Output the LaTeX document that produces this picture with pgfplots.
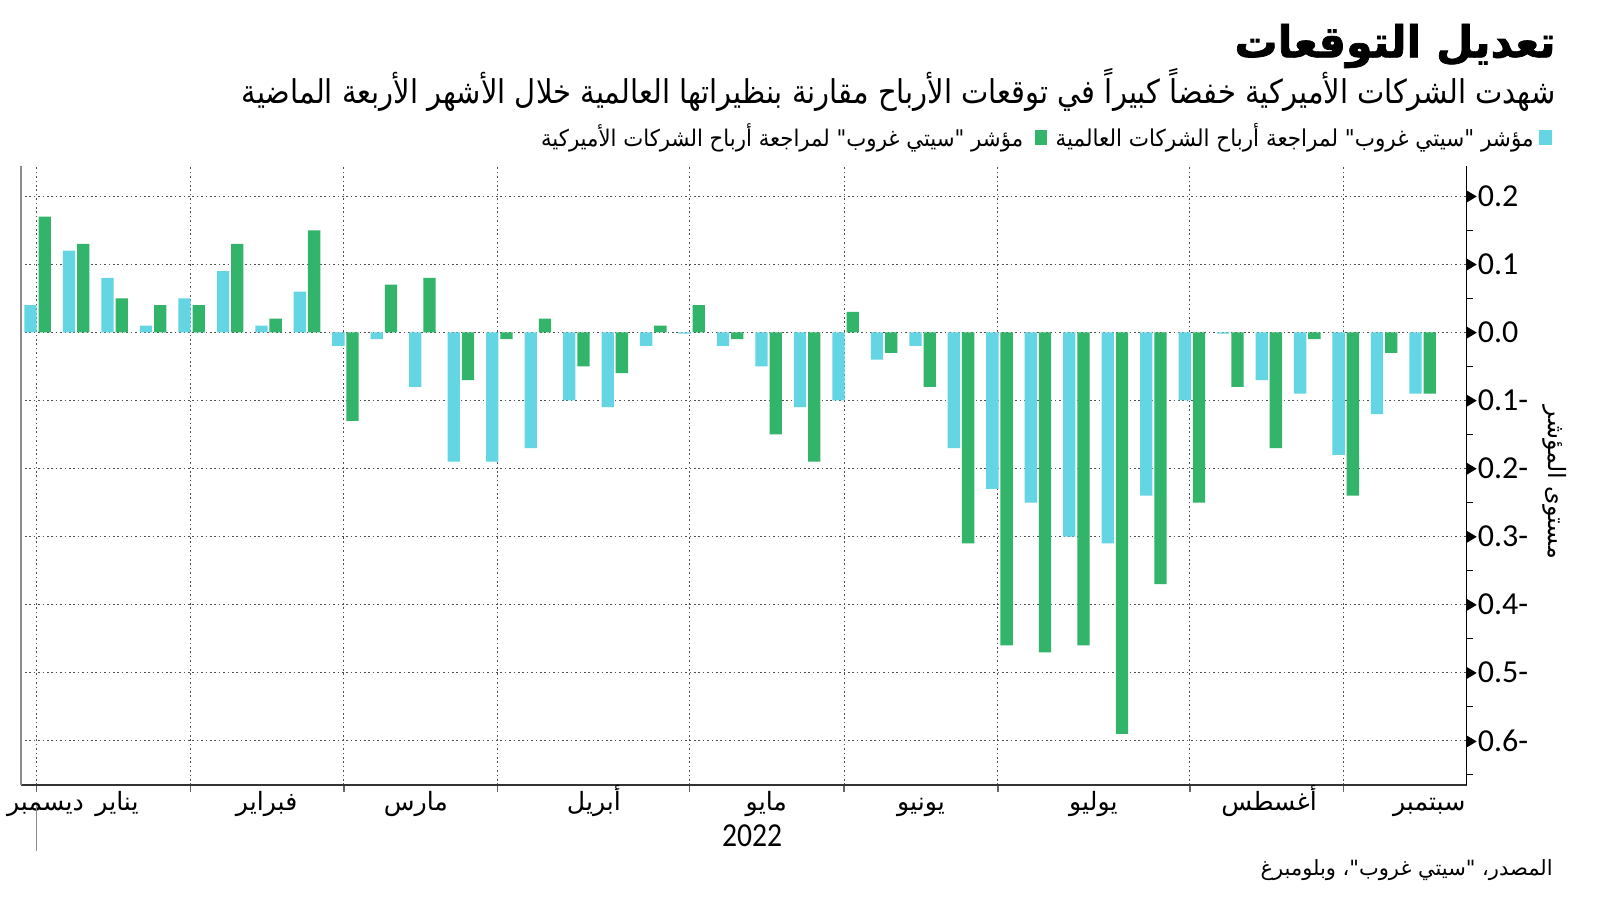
\documentclass[border=0pt]{standalone}
\usepackage{pgfplots}
\pgfplotsset{compat=1.18}
\usepackage{pgfplotstable}
\usepackage{fontspec}
\setmainfont{Carlito}
\newfontfamily\arabicfont[Script=Arabic]{DejaVu Sans}
\newfontfamily\arabicbold[Script=Arabic, FakeBold=1.6]{DejaVu Sans Bold}
\TeXXeTstate=1
\definecolor{cUS}{HTML}{32B46B}
\definecolor{cGL}{HTML}{64D5E3}
\definecolor{gridc}{HTML}{505050}
\newcommand{\ar}[1]{{\arabicfont\beginR #1\endR}}
\newcommand{\mon}[1]{{\arabicfont\fontsize{12.6pt}{13pt}\selectfont\beginR #1\endR}}
\newcommand{\tri}{\tikz[baseline={(0,-5pt)}]\fill[black] (0,-3pt) -- (5pt,0) -- (0,3pt) -- cycle;\hspace{0.6pt}}

\pgfplotstableread{
i c g
1 0.04 0.17
2 0.12 0.13
3 0.08 0.05
4 0.01 0.04
5 0.05 0.04
6 0.09 0.13
7 0.01 0.02
8 0.06 0.15
9 -0.02 -0.13
10 -0.01 0.07
11 -0.08 0.08
12 -0.19 -0.07
13 -0.19 -0.01
14 -0.17 0.02
15 -0.10 -0.05
16 -0.11 -0.06
17 -0.02 0.01
18 -0.002 0.04
19 -0.02 -0.01
20 -0.05 -0.15
21 -0.11 -0.19
22 -0.10 0.03
23 -0.04 -0.03
24 -0.02 -0.08
25 -0.17 -0.31
26 -0.23 -0.46
27 -0.25 -0.47
28 -0.30 -0.46
29 -0.31 -0.59
30 -0.24 -0.37
31 -0.10 -0.25
32 -0.002 -0.08
33 -0.07 -0.17
34 -0.09 -0.01
35 -0.18 -0.24
36 -0.12 -0.03
37 -0.09 -0.09
}\data

\begin{document}
\begin{tikzpicture}[x=1pt,y=1pt]
\useasboundingbox (0,0) rectangle (800,450.5);
\fill[white] (0,0) rectangle (800,450.5);
\begin{axis}[
  at={(10.35pt,58pt)}, anchor=south west, scale only axis,
  width=722.9pt, height=309.5pt,
  xmin=0.558, xmax=38.14, ymin=-0.665, ymax=0.2444,
  clip=false,
  axis x line*=bottom, axis y line*=right,
  x axis line style={draw=black!80, line width=0.75pt, -},
  y axis line style={draw=black, line width=0.7pt, -},
  tick align=outside,
  xtick={0.97,4.97,8.96,12.96,17.95,21.96,25.96,30.95,34.95},
  xticklabels={,,,,,,,,},
  major tick length=3.5pt,
  minor tick length=3pt,
  major x tick style={draw=black!60, line width=0.6pt},
  extra x ticks={1.2,3.06,6.95,10.83,15.46,19.94,23.96,28.44,33.01,37.17},
  extra x tick labels={
    {\mon{ديسمبر}},{\mon{يناير}},{\mon{فبراير}},
    {\mon{مارس}},{\mon{أبريل}},{\mon{مايو}},
    {\mon{يونيو}},{\mon{يوليو}},{\mon{أغسطس}},
    {\mon{سبتمبر}}},
  extra x tick style={grid=none, major tick length=0pt,
     xticklabel style={anchor=base, yshift=-12.5pt}},
  ytick={-0.6,-0.5,-0.4,-0.3,-0.2,-0.1,0,0.1,0.2},
  yticklabels={{\tri0.6-},{\tri0.5-},{\tri0.4-},{\tri0.3-},{\tri0.2-},{\tri0.1-},{\tri0.0},{\tri0.1},{\tri0.2}},
  minor ytick={-0.65,-0.55,-0.45,-0.35,-0.25,-0.15,-0.05,0.05,0.15},
  major y tick style={draw=none},
  minor y tick style={draw=black, line width=0.6pt},
  yticklabel style={anchor=west, inner sep=0pt, xshift=-3.6pt, font=\fontsize{16pt}{16pt}\selectfont},
  grid=major,
  major grid style={draw=gridc, dash pattern=on 0.8pt off 1.4pt, line width=0.55pt},
]
\addplot[ybar, bar width=0.32, bar shift=-0.185, fill=cGL, draw=none] table[x=i,y=c]{\data};
\addplot[ybar, bar width=0.32, bar shift=0.185, fill=cUS, draw=none] table[x=i,y=g]{\data};
\draw[black!45, line width=1pt] (rel axis cs:0,0) -- (rel axis cs:0,1);
\draw[black!45, line width=0.6pt] (axis cs:0.97,-0.665) ++(0pt,-10pt) -- ++(0pt,-23pt);
\end{axis}
% title & subtitle
\node[anchor=east, inner sep=0pt] at (778,427.5) {\resizebox*{160.5pt}{22pt}{{\arabicbold\beginR تعديل التوقعات\endR}}};
\node[anchor=east, inner sep=0pt] at (778,405.5) {\scalebox{1}[1.13]{\resizebox{657pt}{!}{\ar{شهدت الشركات الأميركية خفضاً كبيراً في توقعات الأرباح مقارنة بنظيراتها العالمية خلال الأشهر الأربعة الماضية}}}};
% legend
\fill[cGL] (769.5,378) rectangle (776,385.5);
\fill[cUS] (517.5,378) rectangle (523.5,385.5);
\node[anchor=east, inner sep=0pt] at (767,381.5) {\scalebox{1}[1.08]{\resizebox{239pt}{!}{\ar{مؤشر "سيتي غروب" لمراجعة أرباح الشركات العالمية}}}};
\node[anchor=east, inner sep=0pt] at (511.75,381.5) {\scalebox{1}[1.08]{\resizebox{241pt}{!}{\ar{مؤشر "سيتي غروب" لمراجعة أرباح الشركات الأميركية}}}};
% y label
\node[rotate=-90, inner sep=0pt] at (777.5,209.25) {\resizebox{76.5pt}{!}{\ar{مستوى المؤشر}}};
% year
\node[inner sep=0pt] at (376,32.5) {\resizebox*{30pt}{11pt}{2022}};
% source
\node[anchor=east, inner sep=0pt] at (776.5,15.25) {\resizebox{146pt}{!}{\ar{المصدر، "سيتي غروب"، وبلومبرغ}}};
\end{tikzpicture}
\end{document}
